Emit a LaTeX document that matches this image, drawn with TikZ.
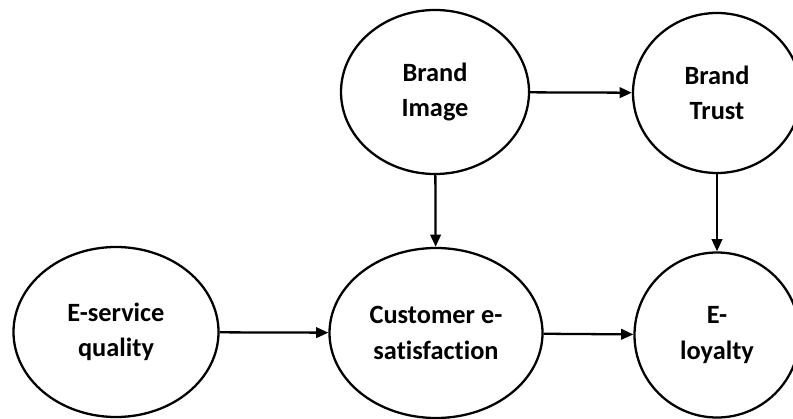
\documentclass[tikz,border=0pt]{standalone}
\usepackage{fontspec}
\setmainfont{Carlito}[Ligatures=NoCommon]
\usetikzlibrary{shapes.geometric,arrows.meta}

\tikzset{
	construct/.style={shape=ellipse,draw=black,line width=1.3pt,inner sep=0pt,align=center,
		font=\fontsize{15}{20}\selectfont\bfseries},
	path/.style={line width=1.3pt,-{Triangle[length=7pt,width=6pt]}}
}

\begin{document}
\begin{tikzpicture}
	\useasboundingbox (0,0) rectangle (15.86,-8.38);

	\node[construct,minimum width=3.76cm,minimum height=3.28cm] (image) at (8.70, -1.84)   {Brand\\Image};
	\node[construct,minimum width=3.36cm,minimum height=3.2cm] (trust) at (14.34, -1.86)   {Brand\\Trust};
	\node[construct,minimum width=4.1cm,minimum height=3.4cm] (quality) at (2.32, -6.64)   {E-service\\quality};
	\node[construct,minimum width=4.26cm,minimum height=3.4cm] (satisf) at (8.72, -6.66)   {Customer e-\\satisfaction};
	\node[construct,minimum width=3.3cm,minimum height=3.3cm] (loyalty) at (14.34, -6.7)   {E-\\loyalty};

	\path[path] (image) edge (trust);
	\path[path] (image) edge (satisf);
	\path[path] (trust) edge (loyalty);
	\path[path] (quality) edge (satisf);
	\path[path] (satisf) edge (loyalty);

\end{tikzpicture}
\end{document}
